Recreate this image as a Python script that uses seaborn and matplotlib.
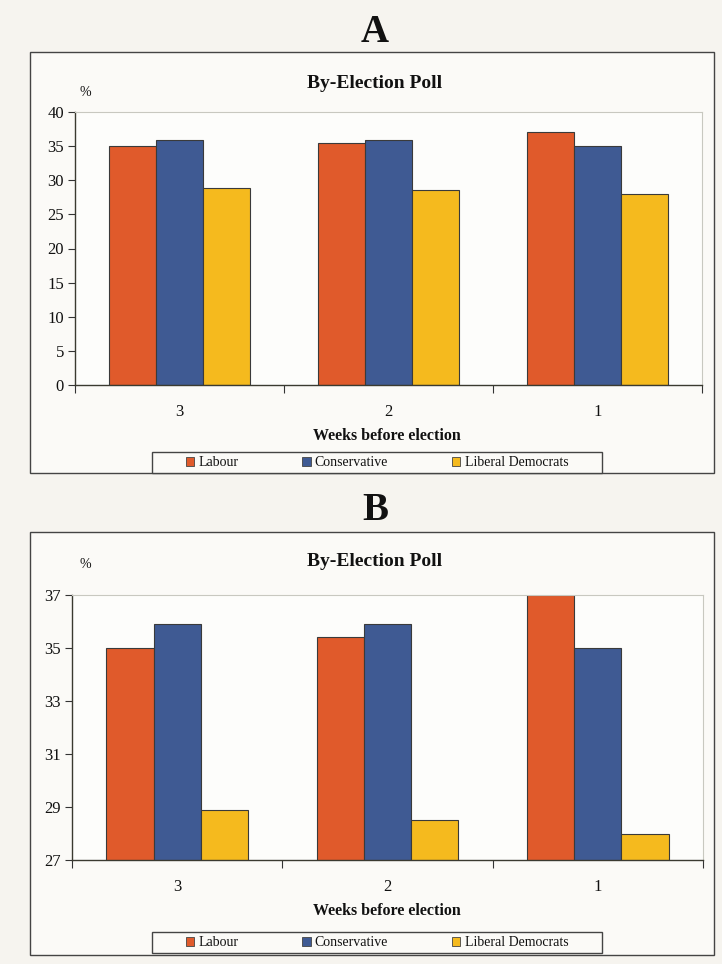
import matplotlib
matplotlib.use("Agg")
import matplotlib.pyplot as plt
from matplotlib.patches import Rectangle, Patch
import seaborn as sns
import pandas as pd

# ---- data ----
weeks = ["3", "2", "1"]
parties = ["Labour", "Conservative", "Liberal Democrats"]
labour = [35.0, 35.4, 37.0]
conservative = [35.9, 35.9, 35.0]
lib_dems = [28.9, 28.5, 28.0]
colors = ["#E05A2B", "#3F5A93", "#F5BA1E"]
ticks_a = [0, 5, 10, 15, 20, 25, 30, 35, 40]
ticks_b = [27, 29, 31, 33, 35, 37]

rows = []
for p, vals in zip(parties, [labour, conservative, lib_dems]):
    for w, v in zip(weeks, vals):
        rows.append({"week": w, "party": p, "value": v})
df = pd.DataFrame(rows)

sns.set_style("white")
plt.rcParams["font.family"] = ["Liberation Serif", "DejaVu Serif"]
plt.rcParams["text.color"] = "#111111"
plt.rcParams["xtick.color"] = "#111111"
plt.rcParams["ytick.color"] = "#111111"

W, H = 722, 964
fig = plt.figure(figsize=(W / 100, H / 100), dpi=100)
bg = "#F6F4EF"
fig.patch.set_facecolor(bg)


def fx(x):
    return x / W


def fy(y):
    return 1 - y / H


def panel(letter, top, bottom, ax_box, ylim, yticks, letter_y, title_y, pct_y,
          xlab_y, leg_top, leg_bot):
    # panel frame
    fig.patches.append(Rectangle((fx(30), fy(bottom)), fx(714) - fx(30),
                                 fy(top) - fy(bottom), transform=fig.transFigure,
                                 facecolor="#FBFAF7", edgecolor="#444444",
                                 linewidth=1.0, zorder=-2))
    # legend frame
    fig.patches.append(Rectangle((fx(152), fy(leg_bot)), fx(602) - fx(152),
                                 fy(leg_top) - fy(leg_bot),
                                 transform=fig.transFigure,
                                 facecolor="#FBFAF7", edgecolor="#444444",
                                 linewidth=1.0, zorder=-1))
    l, t, r, b = ax_box
    ax = fig.add_axes([fx(l), fy(b), fx(r) - fx(l), fy(t) - fy(b)])
    ax.set_zorder(1)
    ax.set_facecolor("#FDFDFB")
    sns.barplot(data=df, x="week", y="value", hue="party", order=weeks,
                hue_order=parties, palette=colors, width=0.675, gap=0,
                edgecolor="#3a3a3a", linewidth=0.8, saturation=1,
                legend=False, ax=ax)
    ax.set_ylim(*ylim)
    ax.set_yticks(yticks)
    ax.set_yticklabels([str(v) for v in yticks], fontsize=12)
    ax.set_xlim(-0.5, 2.5)
    ax.set_xticks([0, 1, 2])
    ax.set_xticklabels(weeks, fontsize=12)
    ax.set_xticks([-0.5, 0.5, 1.5, 2.5], minor=True)
    ax.tick_params(axis="x", which="major", length=0, pad=14)
    ax.tick_params(axis="x", which="minor", length=6, direction="out",
                   width=0.8, color="#333333", bottom=True)
    ax.tick_params(axis="y", length=5, direction="out", width=0.8,
                   color="#333333", pad=3, left=True)
    ax.set_xlabel("")
    ax.set_ylabel("")
    for s in ["left", "bottom"]:
        ax.spines[s].set_color("#3a3a30")
        ax.spines[s].set_linewidth(1.0)
    for s in ["top", "right"]:
        ax.spines[s].set_color("#c8c8c0")
        ax.spines[s].set_linewidth(0.8)
    fig.text(fx(375), fy(letter_y), letter, ha="center", va="center",
             fontsize=28, fontweight="bold")
    fig.text(fx(375), fy(title_y), "By-Election Poll", ha="center",
             va="center", fontsize=14, fontweight="bold")
    fig.text(fx(85), fy(pct_y), "%", ha="center", va="center", fontsize=10)
    fig.text(fx(387), fy(xlab_y), "Weeks before election", ha="center",
             va="center", fontsize=11.5, fontweight="bold")
    handles = [Patch(facecolor=c, edgecolor="#444444", linewidth=0.6,
                     label=p) for c, p in zip(colors, parties)]
    fig.legend(handles=handles, ncol=3, loc="center",
               bbox_to_anchor=(fx(377), fy((leg_top + leg_bot) / 2)),
               fontsize=10, frameon=False,
               handlelength=0.6, handleheight=0.6, handletextpad=0.3,
               columnspacing=4.6, borderpad=0, borderaxespad=0)
    return ax


panel("A", 52, 473, (75, 112, 702, 385), (0, 40), ticks_a, 32, 84, 92, 436,
      452, 473)
panel("B", 532, 955, (72, 595, 703, 860), (27, 37), ticks_b, 511, 561, 564,
      911, 932, 953)

fig.savefig("out.png", dpi=100, facecolor=bg)
